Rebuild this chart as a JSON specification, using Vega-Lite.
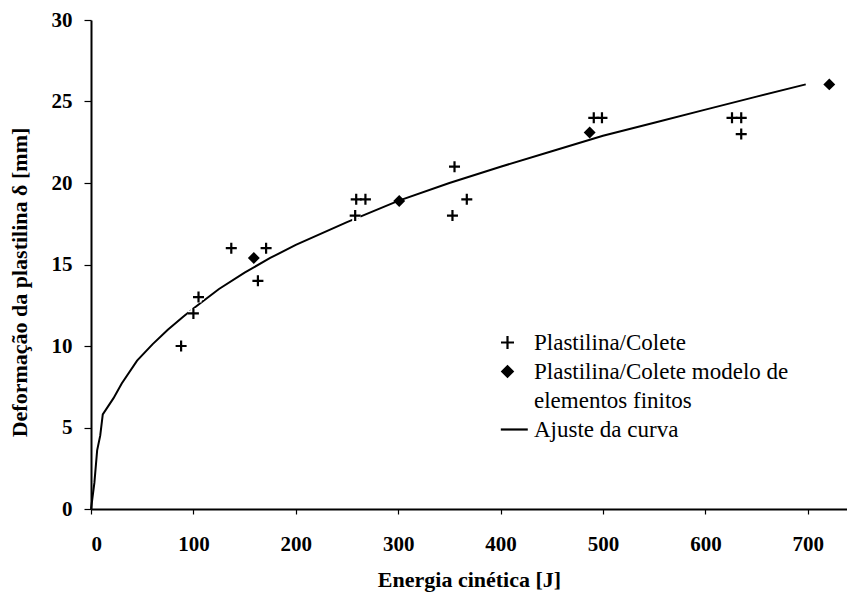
{
  "$schema": "https://vega.github.io/schema/vega-lite/v6.json",
  "width": 756,
  "height": 489,
  "autosize": {"type": "none"},
  "padding": {"left": 91, "top": 20, "right": 0, "bottom": 83},
  "background": "white",
  "config": {
    "view": {"stroke": null},
    "font": "Liberation Serif",
    "axis": {
      "domainColor": "black", "domainWidth": 2, "tickColor": "black", "tickWidth": 1.2,
      "labelFont": "Liberation Serif", "labelFontWeight": "bold", "labelFontSize": 21, "labelColor": "black",
      "titleFont": "Liberation Serif", "titleFontWeight": "bold", "titleFontSize": 22, "titleColor": "black",
      "grid": false
    },
    "legend": {"symbolStrokeColor": "black", "symbolStrokeWidth": 2.2, "symbolFillColor": "transparent", "symbolOpacity": 1}
  },
  "datasets": {
    "pts": [
      {"E": 88, "d": 10, "serie": "Plastilina/Colete"},
      {"E": 100, "d": 12, "serie": "Plastilina/Colete"},
      {"E": 105, "d": 13, "serie": "Plastilina/Colete"},
      {"E": 137, "d": 16, "serie": "Plastilina/Colete"},
      {"E": 171, "d": 16, "serie": "Plastilina/Colete"},
      {"E": 163, "d": 14, "serie": "Plastilina/Colete"},
      {"E": 258, "d": 18, "serie": "Plastilina/Colete"},
      {"E": 259, "d": 19, "serie": "Plastilina/Colete"},
      {"E": 268, "d": 19, "serie": "Plastilina/Colete"},
      {"E": 355, "d": 21, "serie": "Plastilina/Colete"},
      {"E": 353, "d": 18, "serie": "Plastilina/Colete"},
      {"E": 367, "d": 19, "serie": "Plastilina/Colete"},
      {"E": 491, "d": 24, "serie": "Plastilina/Colete"},
      {"E": 499, "d": 24, "serie": "Plastilina/Colete"},
      {"E": 626, "d": 24, "serie": "Plastilina/Colete"},
      {"E": 635, "d": 24, "serie": "Plastilina/Colete"},
      {"E": 635, "d": 23, "serie": "Plastilina/Colete"},
      {"E": 159, "d": 15.4, "serie": "Plastilina/Colete modelo de"},
      {"E": 301, "d": 18.9, "serie": "Plastilina/Colete modelo de"},
      {"E": 487, "d": 23.1, "serie": "Plastilina/Colete modelo de"},
      {"E": 721, "d": 26.05, "serie": "Plastilina/Colete modelo de"}
    ],
    "curve": [
      {"E": 0, "d": 0}, {"E": 3.3, "d": 1.6}, {"E": 6, "d": 3.6}, {"E": 9, "d": 4.5},
      {"E": 11.5, "d": 5.8}, {"E": 22, "d": 6.8}, {"E": 30, "d": 7.7}, {"E": 45, "d": 9.1},
      {"E": 60, "d": 10.1}, {"E": 75, "d": 11}, {"E": 90, "d": 11.8}, {"E": 100, "d": 12.3},
      {"E": 125, "d": 13.5}, {"E": 150, "d": 14.5}, {"E": 175, "d": 15.4}, {"E": 200, "d": 16.2},
      {"E": 250, "d": 17.6}, {"E": 300, "d": 18.9}, {"E": 350, "d": 20.0}, {"E": 400, "d": 21.0},
      {"E": 450, "d": 21.95}, {"E": 500, "d": 22.9}, {"E": 550, "d": 23.7}, {"E": 600, "d": 24.5},
      {"E": 650, "d": 25.3}, {"E": 698, "d": 26.05}
    ]
  },
  "layer": [
    {
      "data": {"name": "curve"},
      "mark": {"type": "line", "color": "black", "strokeWidth": 2},
      "encoding": {
        "x": {
          "field": "E", "type": "quantitative",
          "scale": {"domain": [0, 738.3], "nice": false, "zero": false},
          "axis": {
            "title": "Energia cinética [J]", "values": [0, 100, 200, 300, 400, 500, 600, 700],
            "tickSize": 5, "labelPadding": 19, "titleBaseline": "alphabetic", "titleY": 77,
            "titleX": 378, "titleAnchor": "middle"
          }
        },
        "y": {
          "field": "d", "type": "quantitative",
          "scale": {"domain": [0, 30], "nice": false},
          "axis": {
            "title": "Deformação da plastilina δ [mm]", "values": [0, 5, 10, 15, 20, 25, 30],
            "tickSize": 7, "labelPadding": 12, "titleX": -72, "titleY": 262,
            "titleBaseline": "middle", "titleAlign": "center", "titleAngle": 270
          }
        }
      }
    },
    {
      "mark": {"type": "rule", "color": "black", "strokeWidth": 1.5},
      "encoding": {"y": {"datum": 30}}
    },
    {
      "data": {"name": "pts"},
      "transform": [{"filter": "datum.serie === 'Plastilina/Colete'"}],
      "mark": {"type": "point", "shape": "M-1,0L1,0M0,-1L0,1", "stroke": "white", "strokeWidth": 6, "size": 121, "opacity": 1, "filled": false},
      "encoding": {
        "x": {"field": "E", "type": "quantitative"},
        "y": {"field": "d", "type": "quantitative"}
      }
    },
    {
      "data": {"name": "pts"},
      "mark": {"type": "point", "filled": false, "stroke": "black", "strokeWidth": 2.2, "size": 121, "opacity": 1},
      "encoding": {
        "x": {"field": "E", "type": "quantitative"},
        "y": {"field": "d", "type": "quantitative"},
        "shape": {
          "field": "serie", "type": "nominal",
          "scale": {
            "domain": ["Plastilina/Colete", "Plastilina/Colete modelo de", "elementos finitos", "Ajuste da curva"],
            "range": ["M-1,0L1,0M0,-1L0,1", "M0,-0.8L0.8,0L0,0.8L-0.8,0ZM0,-0.5L0.5,0L0,0.5L-0.5,0ZM0,-0.2L0.2,0L0,0.2L-0.2,0Z", "M0,0", "M-1.03,0L3.12,0"]
          },
          "legend": {
            "title": null, "orient": "none", "legendX": 405, "legendY": 311, "padding": 0,
            "symbolSize": 169, "symbolStrokeColor": "black", "symbolStrokeWidth": 2.2,
            "labelFont": "Liberation Serif", "labelFontSize": 23, "labelColor": "black",
            "labelOffset": 15, "rowPadding": 5, "labelLimit": 400
          }
        }
      }
    }
  ]
}
